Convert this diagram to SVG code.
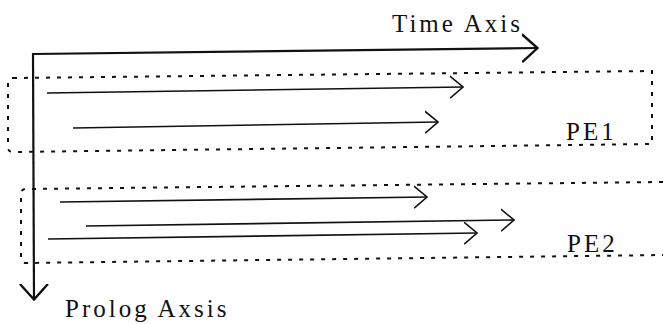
<svg xmlns="http://www.w3.org/2000/svg" width="663" height="324" viewBox="0 0 663 324">
<style>
.lbl{font-family:"Liberation Serif","Times New Roman",serif;font-size:25px;letter-spacing:3px;fill:#111}
.box{fill:none;stroke:#111;stroke-width:2;stroke-dasharray:4 7}
.axis{fill:none;stroke:#111;stroke-width:2.2}
.arr{fill:none;stroke:#111;stroke-width:1.6}
</style>
<defs>
<marker id="ah" markerUnits="userSpaceOnUse" viewBox="0 0 14 24" refX="13" refY="12" markerWidth="14" markerHeight="24" orient="auto">
<path d="M0,1 L13,12 L0,23" fill="none" stroke="#111" stroke-width="1.6"/>
</marker>
<marker id="axh" markerUnits="userSpaceOnUse" viewBox="0 0 17 30" refX="16" refY="15" markerWidth="17" markerHeight="30" orient="auto">
<path d="M0,1 L15.5,15 L0,29" fill="none" stroke="#111" stroke-width="2.4"/>
</marker>
</defs>
<g id="PE1">
<path class="box" d="M13,78 L652,71 L652,144 L13,152 Q8,152 8,147 L8,83 Q8,78 13,78 Z"/>
<text class="lbl" x="566" y="140">PE1</text>
</g>
<g id="PE2">
<path class="box" d="M663,182 L26,189 Q21,189 21,194 L21,258 Q21,263 26,263 L663,255"/>
<text class="lbl" x="567" y="252">PE2</text>
</g>
<g id="connectors">
<path class="axis" d="M33,54 L538,48" marker-end="url(#axh)"/>
<path class="axis" d="M33,53 L34,300" marker-end="url(#axh)"/>
<line class="arr" x1="47" y1="93" x2="463" y2="87" marker-end="url(#ah)"/>
<line class="arr" x1="73" y1="128" x2="438" y2="122" marker-end="url(#ah)"/>
<line class="arr" x1="60" y1="202" x2="427" y2="197" marker-end="url(#ah)"/>
<line class="arr" x1="86" y1="226" x2="514" y2="220" marker-end="url(#ah)"/>
<line class="arr" x1="48" y1="239" x2="477" y2="233" marker-end="url(#ah)"/>
</g>
<text class="lbl" x="392" y="32">Time Axis</text>
<text class="lbl" x="65" y="317">Prolog Axsis</text>
</svg>
